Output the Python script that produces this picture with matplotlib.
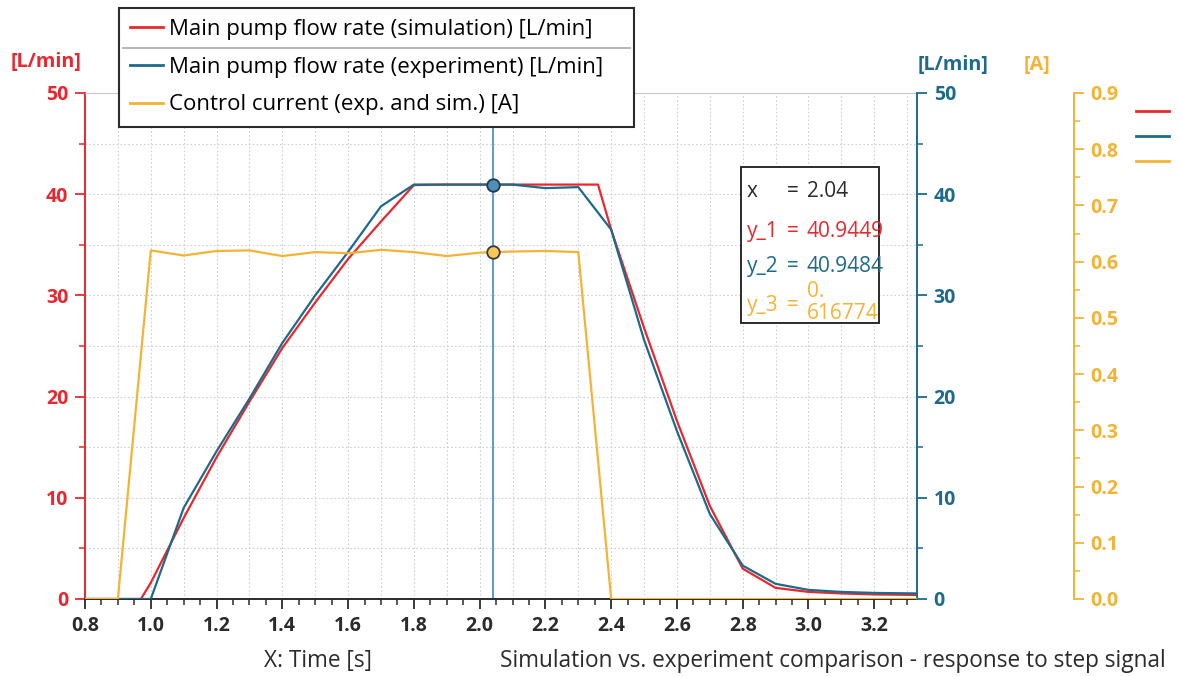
import numpy as np
import matplotlib
matplotlib.use("Agg")
import matplotlib.pyplot as plt
from matplotlib.ticker import MultipleLocator
from matplotlib.patches import Rectangle
from matplotlib.lines import Line2D
from matplotlib.transforms import Bbox, TransformedBbox

plt.rcParams['font.family'] = ['Open Sans', 'DejaVu Sans']

# simulated flow [L/min]
t_sim = [0.8, 0.9, 0.97, 1.0, 1.1, 1.2, 1.3, 1.4, 1.5, 1.6, 1.7, 1.8, 1.9, 2.0, 2.1, 2.2,
         2.3, 2.36, 2.4, 2.5, 2.6, 2.7, 2.8, 2.9, 3.0, 3.1, 3.2, 3.33]
q_sim = [0, 0, 0, 1.6, 8.0, 14.0, 19.5, 24.8, 29.3, 33.6, 37.3, 40.9, 40.95, 40.95, 40.95, 40.95,
         40.95, 40.95, 36.5, 26.8, 17.6, 9.2, 3.0, 1.1, 0.7, 0.55, 0.45, 0.4]

# measured flow [L/min]
t_exp = [0.8, 0.9, 1.0, 1.1, 1.2, 1.3, 1.4, 1.5, 1.6, 1.7, 1.8, 1.9, 2.0, 2.1, 2.2, 2.3,
         2.4, 2.5, 2.6, 2.7, 2.8, 2.9, 3.0, 3.1, 3.2, 3.33]
q_exp = [0, 0, 0, 9.0, 14.6, 19.8, 25.3, 30.0, 34.3, 38.8, 40.95, 40.95, 40.95, 40.95, 40.6, 40.7,
         36.5, 25.6, 16.6, 8.4, 3.3, 1.5, 0.9, 0.7, 0.6, 0.55]

# control current [A]
t_cur = [0.8, 0.9, 1.0, 1.1, 1.2, 1.3, 1.4, 1.5, 1.6, 1.7, 1.8, 1.9, 2.0, 2.1, 2.2, 2.3,
         2.4, 2.5, 3.33]
i_cur = [0, 0, 0.620, 0.611, 0.619, 0.620, 0.610, 0.617, 0.615, 0.621, 0.617, 0.610, 0.616,
         0.618, 0.619, 0.617, 0, 0, 0]

cursor_x = 2.04
cursor_vals = [40.9449, 40.9484, 0.616774]

labels = ["Main pump flow rate (simulation) [L/min]",
          "Main pump flow rate (experiment) [L/min]",
          "Control current (exp. and sim.) [A]"]

RED = '#e8282e'
BLUE = '#1d6a8a'
ORANGE = '#f5b335'
DARK = '#2b2b2b'
GRID = '#cfcfcf'
TICKFS = 14

fig = plt.figure(figsize=(11.81, 6.77), dpi=100)
ax = fig.add_axes([85 / 1181, 1 - 599 / 677, 832 / 1181, 506 / 677])
ax2 = ax.twinx()
ax3 = ax.twinx()
ax3.spines['right'].set_position(('outward', 113))

ax.set_xlim(0.8, 3.33)
ax.set_ylim(0, 50)
ax2.set_ylim(0, 50)
ax3.set_ylim(0, 0.9)

# grid
for gx in np.arange(0.9, 3.31, 0.1):
    ax.axvline(gx, color=GRID, lw=0.8, ls=(0, (1.5, 2)), zorder=0)
for gy in np.arange(5, 50, 5):
    ax.axhline(gy, color=GRID, lw=0.8, ls=(0, (1.5, 2)), zorder=0)

l1, = ax.plot(t_sim, q_sim, color=RED, lw=1.6, zorder=3)
l2, = ax2.plot(t_exp, q_exp, color=BLUE, lw=1.6, zorder=3)
l3, = ax3.plot(t_cur, i_cur, color=ORANGE, lw=1.6, zorder=3)

# cursor
ax.axvline(cursor_x, color='#5b9bd5', lw=1.4, zorder=2)
ax2.plot(cursor_x, cursor_vals[1], 'o', ms=9, mfc='#4f8fb3', mec='#1c3b4c', mew=1.3, zorder=5)
ax3.plot(cursor_x, cursor_vals[2], 'o', ms=9, mfc='#f6c955', mec='#3a3a3a', mew=1.3, zorder=5)

# spines
for a in (ax, ax2, ax3):
    for s in a.spines.values():
        s.set_visible(False)
ax.spines['left'].set_visible(True)
ax.spines['left'].set_color(RED)
ax.spines['left'].set_linewidth(1.4)
ax.spines['bottom'].set_visible(True)
ax.spines['bottom'].set_color(DARK)
ax.spines['bottom'].set_linewidth(1.4)
ax.spines['top'].set_visible(True)
ax.spines['top'].set_color('#c8c8c8')
ax2.spines['right'].set_visible(True)
ax2.spines['right'].set_color(BLUE)
ax2.spines['right'].set_linewidth(1.4)
ax3.spines['right'].set_visible(True)
ax3.spines['right'].set_color(ORANGE)
ax3.spines['right'].set_linewidth(1.4)

# ticks
ax.xaxis.set_major_locator(MultipleLocator(0.2))
ax.xaxis.set_minor_locator(MultipleLocator(0.05))
ax.tick_params(axis='x', which='major', length=7, width=1.3, color=DARK, labelcolor=DARK,
               labelsize=TICKFS, pad=5)
ax.tick_params(axis='x', which='minor', length=4, width=1.1, color=DARK)
ax.yaxis.set_major_locator(MultipleLocator(10))
ax.yaxis.set_minor_locator(MultipleLocator(5))
ax.tick_params(axis='y', which='major', length=7, width=1.3, color=RED, labelcolor=RED,
               labelsize=TICKFS, pad=5)
ax.tick_params(axis='y', which='minor', length=4, width=1.1, color=RED)
ax2.yaxis.set_major_locator(MultipleLocator(10))
ax2.yaxis.set_minor_locator(MultipleLocator(5))
ax2.tick_params(axis='y', which='major', length=7, width=1.3, color=BLUE, labelcolor=BLUE,
                labelsize=TICKFS, pad=5)
ax2.tick_params(axis='y', which='minor', length=4, width=1.1, color=BLUE)
ax3.yaxis.set_major_locator(MultipleLocator(0.1))
ax3.yaxis.set_minor_locator(MultipleLocator(0.05))
ax3.yaxis.set_major_formatter('{x:.1f}')
ax3.tick_params(axis='y', which='major', length=7, width=1.3, color=ORANGE, labelcolor=ORANGE,
                labelsize=TICKFS, pad=5)
ax3.tick_params(axis='y', which='minor', length=4, width=1.1, color=ORANGE)

# unit labels
fig.text(46 / 1181, 1 - 62 / 677, "[L/min]", color=RED, fontsize=14.3, fontweight='bold',
         ha='center', va='center')
fig.text(953 / 1181, 1 - 65 / 677, "[L/min]", color=BLUE, fontsize=14.3, fontweight='bold',
         ha='center', va='center')
fig.text(1037 / 1181, 1 - 65 / 677, "[A]", color=ORANGE, fontsize=14.3, fontweight='bold',
         ha='center', va='center')

fig.text(318 / 1181, 1 - 661 / 677, "X: Time [s]", color=DARK, fontsize=16.3,
         ha='center', va='center')
fig.text(1166 / 1181, 1 - 661 / 677,
         "Simulation vs. experiment comparison - response to step signal",
         color=DARK, fontsize=16.3, ha='right', va='center')

# cursor readout box
bx0, bx1, by0, by1 = 0.7885, 0.9543, 0.546, 0.8544
BOXFS = 15
ax.add_patch(Rectangle((bx0, by0), bx1 - bx0, by1 - by0, transform=ax.transAxes,
                       facecolor='white', edgecolor=DARK, lw=1.4, zorder=6))
clip = TransformedBbox(Bbox([[bx0, by0], [bx1 - 0.006, by1]]), ax.transAxes)
xn, xe, xv = 0.7953, 0.8438, 0.8672
readout = [("x", "%.2f" % cursor_x, DARK, 0.805),
           ("y_1", "%.4f" % cursor_vals[0], RED, 0.726),
           ("y_2", "%.4f" % cursor_vals[1], BLUE, 0.657)]
for name, val, col, yy in readout:
    ax.text(xn, yy, name, transform=ax.transAxes, color=col, fontsize=BOXFS,
            va='center', zorder=7)
    ax.text(xe, yy, "=", transform=ax.transAxes, color=col, fontsize=BOXFS,
            va='center', zorder=7)
    t = ax.text(xv, yy, val, transform=ax.transAxes, color=col, fontsize=BOXFS,
                va='center', zorder=7)
    t.set_clip_box(clip)
ax.text(xn, 0.581, "y_3", transform=ax.transAxes, color=ORANGE, fontsize=BOXFS,
        va='center', zorder=7)
ax.text(xe, 0.581, "=", transform=ax.transAxes, color=ORANGE, fontsize=BOXFS,
        va='center', zorder=7)
v = ("%.6f" % cursor_vals[2]).split(".")
ax.text(xv, 0.607, v[0] + ".", transform=ax.transAxes, color=ORANGE, fontsize=BOXFS,
        va='center', zorder=7)
t = ax.text(xv, 0.565, v[1], transform=ax.transAxes, color=ORANGE, fontsize=BOXFS,
            va='center', zorder=7)
t.set_clip_box(clip)

# legends
leg = fig.legend([l1, l2, l3], labels, loc='upper left', mode='expand',
                 bbox_to_anchor=(119 / 1181, 1 - 128 / 677, 515 / 1181, 120 / 677),
                 borderaxespad=0, fontsize=16, fancybox=False, framealpha=1,
                 edgecolor=DARK, handlelength=1.5, handletextpad=0.25,
                 labelspacing=0.75, borderpad=0.5)
leg.get_frame().set_linewidth(1.5)
for h in leg.legend_handles:
    h.set_linewidth(2)

fig.legend([Line2D([], [], color=c, lw=2) for c in (RED, BLUE, ORANGE)], ['', '', ''],
           loc='upper left', bbox_to_anchor=(1136 / 1181, 1 - 105 / 677), borderaxespad=0,
           frameon=False, fontsize=10, handlelength=2.4, handletextpad=0,
           labelspacing=0.73, borderpad=0)

fig.canvas.draw()
for a in (ax, ax2, ax3):
    for lab in a.get_xticklabels() + a.get_yticklabels():
        lab.set_fontweight('bold')

r = fig.canvas.get_renderer()
lb = leg.get_window_extent(r)
tb1 = leg.get_texts()[0].get_window_extent(r)
tb2 = leg.get_texts()[1].get_window_extent(r)
ysep = (tb1.y0 + tb2.y1) / 2
fig.add_artist(Line2D([lb.x0 + 4, lb.x1 - 4], [ysep, ysep], color='#b0b0b0', lw=1.3,
                      transform=None, zorder=10))

fig.savefig("out.png", dpi=100)
